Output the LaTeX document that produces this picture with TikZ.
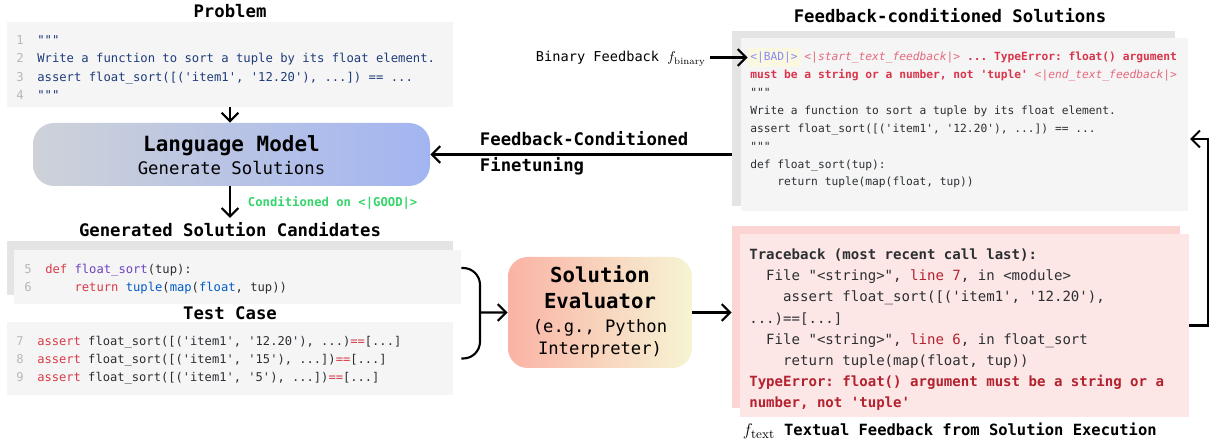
\documentclass[tikz,border=0pt]{standalone}
\usepackage{amsmath}
\usepackage{fontspec}
\setmonofont{DejaVu Sans Mono}
\usepackage{xcolor}
\usetikzlibrary{arrows.meta,fit,calc}

\definecolor{codebg}{HTML}{F5F5F5}
\definecolor{codeback}{HTML}{E4E4E4}
\definecolor{lnumc}{HTML}{B8B8B8}
\definecolor{navy}{HTML}{1F3C7A}
\definecolor{kw}{HTML}{D73A49}
\definecolor{fn}{HTML}{6F42C1}
\definecolor{bi}{HTML}{005CC5}
\definecolor{txt}{HTML}{2B2F33}
\definecolor{good}{HTML}{35D46A}
\definecolor{bad}{HTML}{8A8AF2}
\definecolor{badbg}{HTML}{FBF8E1}
\definecolor{tag}{HTML}{E4687C}
\definecolor{err}{HTML}{D9354B}
\definecolor{lred}{HTML}{B3222F}
\definecolor{pinkback}{HTML}{FCD4D4}
\definecolor{pinkfront}{HTML}{FDE6E6}
\definecolor{lmL}{HTML}{CED2D8}
\definecolor{lmR}{HTML}{A3B5F1}
\definecolor{evL}{HTML}{FAB3A5}
\definecolor{evR}{HTML}{F6F4D4}

\newcommand{\monoNsize}[2]{\fontsize{#1}{#2}\selectfont\ttfamily}

\tikzstyle{head}=[anchor=base, font={\monoNsize{12.3}{14}\bfseries}]
\tikzstyle{panel}=[inner sep=0pt, fill=codebg]
\tikzstyle{codeline}=[anchor=base west, inner sep=0pt, align=left]
\tikzstyle{lnum}=[codeline, text=lnumc]
\tikzstyle{conn}=[line width=1.5pt]
\tikzstyle{arr}=[conn, -{Straight Barb[length=6pt,width=12pt]}]

\begin{document}
\begin{tikzpicture}[x=0.025cm, y=-0.025cm]
	\useasboundingbox (0,0) rectangle (1213,444);
	% problem (multi-line nodes sit on their last baseline)
	\node[head] (probT) at (230,17.5) {Problem};
	\node[panel, fit={(7,22) (453,107)}] (probBox) {};
	\node[lnum, font=\monoNsize{8.7}{13}] (probN) at (16,99.5) {1\\2\\3\\4};
	\node[codeline, font=\monoNsize{8.7}{13}, text=navy] (probC) at (37,99.5) {"""\\Write a function to sort a tuple by its float element.\\assert float\_sort([('item1', '12.20'), ...]) == ...\\"""};
	% language model
	\node[fit={(33,123) (430,186)}, inner sep=0pt, rounded corners=15pt, left color=lmL, right color=lmR] (lmBox) {};
	\node[anchor=base, font={\monoNsize{14.9}{17}\bfseries}] (lmT) at (231.5,152) {Language Model};
	\node[anchor=base, font=\monoNsize{12.3}{14}] (lmS) at (231.5,175) {Generate Solutions};
	\draw[arr] (probBox.south) -- (probBox.south |- lmBox.north);
	\node[anchor=base west, font={\monoNsize{8.7}{10}\bfseries}, text=good] (goodL) at (243,207) {Conditioned on <|GOOD|>};
	% generated candidates
	\node[head] (genT) at (230,237) {Generated Solution Candidates};
	\draw[arr] (probBox.south |- lmBox.south) -- (probBox.south |- genT.north);
	\node[panel, fill=codeback, fit={(7,241) (453,295)}] (genBack) {};
	\node[panel, fit={(14,250) (461,304)}] (genBox) {};
	\node[lnum, font=\monoNsize{8.65}{13.5}] (genN) at (24,292) {5\\6};
	\node[codeline, font=\monoNsize{8.65}{13.5}, text=txt] (genC) at (45,292) {\textcolor{kw}{def} \textcolor{fn}{float\_sort}(tup):\\\ \ \ \ \textcolor{kw}{return} \textcolor{bi}{tuple}(\textcolor{bi}{map}(\textcolor{bi}{float}, tup))};
	% test case
	\node[head] (testT) at (230,320) {Test Case};
	\node[panel, fit={(7,322) (453,395)}] (testBox) {};
	\node[lnum, font=\monoNsize{8.6}{13.1}] (testN) at (16,382) {7\\8\\9};
	\node[codeline, font=\monoNsize{8.6}{13.1}, text=txt] (testC) at (37,382) {\textcolor{kw}{assert} float\_sort([('item1', '12.20'), ...)\textcolor{kw}{==}[...]\\\textcolor{kw}{assert} float\_sort([('item1', '15'), ...])\textcolor{kw}{==}[...]\\\textcolor{kw}{assert} float\_sort([('item1', '5'), ...])\textcolor{kw}{==}[...]};
	% evaluator
	\node[fit={(508,257) (692,368)}, inner sep=0pt, rounded corners=14pt, left color=evL, right color=evR] (evalBox) {};
	\node[anchor=base, align=center, font={\monoNsize{14.7}{19.1}\bfseries}] (evalT) at (600,309) {Solution\\Evaluator};
	\node[anchor=base, align=center, font=\monoNsize{12.2}{16.3}] (evalS) at (600,355) {(e.g., Python\\Interpreter)};
	\coordinate (brTop) at (genBox.east |- genBack.east);
	\coordinate (brBot) at (genBox.east |- testBox.east);
	\coordinate (brJoin) at (480,312.5);
	\draw[conn, rounded corners=12pt] (brTop) -| (brJoin) |- (brBot);
	\draw[arr] (brJoin) -- (evalBox.west);
	% feedback-conditioned solutions
	\node[head] (fbT) at (950,23) {Feedback-conditioned Solutions};
	\node[panel, fill=codeback, fit={(732,31) (1175,206)}] (fbBack) {};
	\node[panel, fit={(741,38) (1188,211)}] (fbBox) {};
	\node[inner sep=0pt, fill=badbg, fit={(748,48) (801,67)}] (badMark) {};
	\node[codeline, font=\monoNsize{8}{12.75}, text=txt] (fbC) at (750,186) {\textcolor{bad}{<|BAD|>} \textcolor{tag}{\itshape <|start\_text\_feedback|>} \textcolor{err}{\bfseries ... TypeError: float() argument}\\\textcolor{err}{\bfseries must be a string or a number, not 'tuple'} \textcolor{tag}{\itshape <|end\_text\_feedback|>}\\"""\\Write a function to sort a tuple by its float element.\\assert float\_sort([('item1', '12.20'), ...]) == ...\\"""\\def float\_sort(tup):\\\ \ \ \ return tuple(map(float, tup))};
	\node[anchor=base west, font=\monoNsize{9.7}{12}] (binL) at (531,62) {Binary Feedback $f_{\mathrm{binary}}$};
	\draw[arr] (binL.east |- badMark.west) -- (badMark.west);
	\draw[arr] (lmBox.east -| fbBack.west) -- (lmBox.east);
	\node[anchor=base west, font={\monoNsize{12.3}{14}\bfseries}] (ftA) at (475,146) {Feedback-Conditioned};
	\node[anchor=base west, font={\monoNsize{12.3}{14}\bfseries}] (ftB) at (475,172) {Finetuning};
	% textual feedback
	\node[panel, fill=pinkback, fit={(732,226) (1180,408)}] (txtBack) {};
	\node[panel, fill=pinkfront, fit={(740,234) (1189,417)}] (txtBox) {};
	\node[codeline, font=\monoNsize{10}{15.1}, text=txt] (txtC) at (749,408) {\textbf{Traceback (most recent call last):}\\\ \ File "<string>", \textcolor{lred}{line 7}, in <module>\\\ \ \ \ assert float\_sort([('item1', '12.20'),\\...)==[...]\\\ \ File "<string>", \textcolor{lred}{line 6}, in float\_sort\\\ \ \ \ return tuple(map(float, tup))\\\textcolor{lred}{\bfseries TypeError: float() argument must be a string or a}\\\textcolor{lred}{\bfseries number, not 'tuple'}};
	\node[anchor=base west, font={\monoNsize{11}{13}\bfseries}] (txtCap) at (738,436) {{\fontsize{13}{13}\selectfont$f_{\mathrm{text}}$} Textual Feedback from Solution Execution};
	\draw[arr] (evalBox.east) -- (evalBox.east -| txtBack.west);
	\coordinate (loopEnd) at (1190,139);
	\draw[arr] (txtBox.east) -- ++(19,0) |- (loopEnd);
\end{tikzpicture}
\end{document}
